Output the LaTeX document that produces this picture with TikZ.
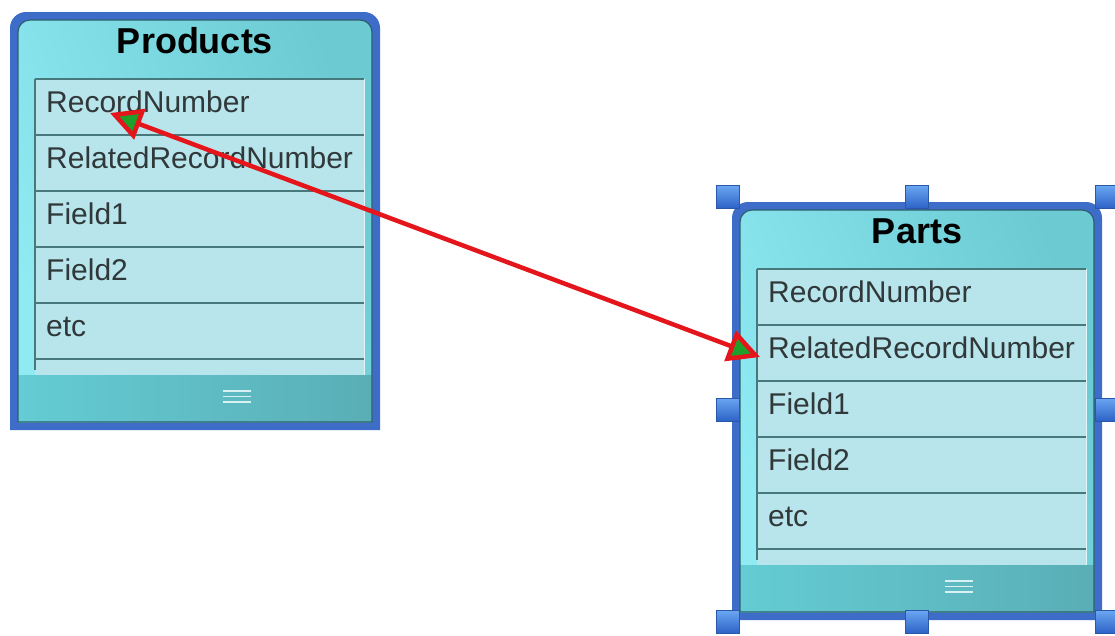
\documentclass[tikz,border=0pt]{standalone}
\usepackage{fontspec}
\setmainfont{Liberation Sans}
\usetikzlibrary{arrows.meta}

\definecolor{frameblue}{HTML}{3D6DC8}
\definecolor{boxlight}{HTML}{8FEAF2}
\definecolor{boxdark}{HTML}{6BCAD2}
\definecolor{rowfill}{HTML}{B7E5EB}
\definecolor{rowline}{HTML}{46787C}
\definecolor{footlight}{HTML}{64CCD4}
\definecolor{footdark}{HTML}{5AAEB6}
\definecolor{innerline}{HTML}{2E5E6E}
\definecolor{textgray}{HTML}{30383A}
\definecolor{linkred}{HTML}{E4161B}
\definecolor{linkgreen}{HTML}{1EA02A}
\definecolor{handletop}{HTML}{6AA6F2}
\definecolor{handlebot}{HTML}{2C62C6}
\definecolor{handleedge}{HTML}{2A58A8}

\tikzset{
  Tri/.tip={Triangle[length=32pt,width=32pt,fill=linkgreen]},
  fieldtext/.style={anchor=base west, inner sep=0pt, text=textgray,
    font=\fontsize{30}{32}\selectfont},
  titletext/.style={anchor=base, inner sep=0pt, text=black,
    font=\fontsize{36}{40}\selectfont\bfseries},
  rowsep/.style={draw=rowline, line width=1.2pt},
  handle/.style={draw=handleedge, line width=0.8pt, minimum size=23pt,
    inner sep=0pt, top color=handletop, bottom color=handlebot},
  relarrow/.style={draw=linkred, line width=4.5pt, Tri-Tri},
  pics/entity/.style={code={
    % blue frame, rounded at the top only
    \fill[frameblue] (0,418) -- (0,16) arc[start angle=180,end angle=270,radius=16]
      -- (354,0) arc[start angle=270,end angle=360,radius=16] -- (370,418) -- cycle;
    % body with soft cyan gradient
    \shade[left color=boxlight, right color=boxdark, shading angle=110]
      (8,410) -- (8,20) arc[start angle=180,end angle=270,radius=12]
      -- (350,8) arc[start angle=270,end angle=360,radius=12] -- (362,410) -- cycle;
    % footer strip
    \shade[left color=footlight, right color=footdark] (8,363) rectangle (362,410);
    \foreach \yy in {379,384.5,390}
      \draw[line width=1.6pt, color=white!75!footlight] (213,\yy) -- (241,\yy);
    % field table
    \fill[rowfill] (25,67) rectangle (354,363);
    \draw[line width=0.8pt, color=white!60!rowfill] (354,67) -- (354,363);
    \foreach \k in {0,...,5}
      \draw[rowsep] (25,67+56*\k) -- (354,67+56*\k);
    \draw[rowsep] (25,67) -- (25,358);
    % title and fields
    \node[titletext] (-title) at (185,41) {#1};
    \foreach \f [count=\i] in {RecordNumber,RelatedRecordNumber,Field1,Field2,etc}
      \node[fieldtext] (-f\i) at (36,67+56*\i-56+33) {\f};
    % inner edge
    \draw[innerline, line width=1.2pt]
      (8,410) -- (8,20) arc[start angle=180,end angle=270,radius=12]
      -- (350,8) arc[start angle=270,end angle=360,radius=12] -- (362,410) -- cycle;
  }}
}

\begin{document}
\begin{tikzpicture}[x=1pt,y=-1pt]
  \useasboundingbox (0,0) rectangle (1115,635);
  \clip (0,0) rectangle (1115,635);
  \fill[white] (0,0) rectangle (1115,635);

  \pic (prod) at (10,12) {entity=Products};
  \pic (part) at (732,202) {entity=Parts};

  % selection handles around the Parts table
  \node[handle] (hNW) at (728,197) {};
  \node[handle] (hN)  at (917,197) {};
  \node[handle] (hNE) at (1107,197) {};
  \node[handle] (hW)  at (728,409.5) {};
  \node[handle] (hE)  at (1107,409.5) {};
  \node[handle] (hSW) at (728,622) {};
  \node[handle] (hS)  at (917,622) {};
  \node[handle] (hSE) at (1107,622) {};

  % relationship between the two record keys
  \coordinate (prodKey) at (110,113);
  \coordinate (partKey) at (760,357);
  \draw[relarrow] (prodKey) -- (partKey);
\end{tikzpicture}
\end{document}
